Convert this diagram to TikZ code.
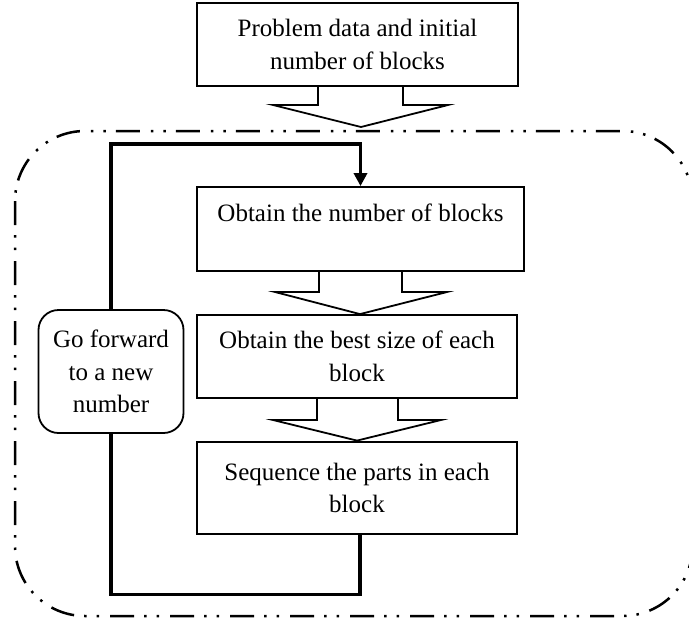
\documentclass[tikz,border=0pt]{standalone}
\usepackage{fontspec}
\setmainfont{Liberation Serif}
\usetikzlibrary{arrows.meta,calc}

\tikzset{
  txt/.style={font=\fontsize{25}{32.5}\selectfont, align=center, inner sep=0pt},
  stepbox/.style={txt, draw, line width=1.8pt, rectangle},
  endbox/.style={stepbox, line width=2.8pt},
  roundbox/.style={txt, draw, line width=1.8pt, rounded corners=20pt},
  blockarrow/.style={draw, line width=1.8pt, line join=miter},
  loopline/.style={draw, line width=3.5pt},
  frameline/.style={draw, line width=2.5pt,
    dash pattern=on 24pt off 10pt on 2.5pt off 10pt on 2.5pt off 11pt,
    rounded corners=70pt}
}

\begin{document}
\begin{tikzpicture}[x=1pt, y=-1pt]
  \useasboundingbox (0,0) rectangle (689,619);

  % enclosing dash-dot-dot frame around the iterative part
  \draw[frameline] (15,131) rectangle (692.5,616);

  % process boxes
  \node[stepbox, minimum width=321pt, minimum height=83pt] (top) at (357.5,44.5)
    {Problem data and initial\\number of blocks};
  \node[stepbox, minimum width=327pt, minimum height=84pt] (b2) at (360.5,229)
    {Obtain the number of blocks\\\mbox{}};
  \node[stepbox, minimum width=320pt, minimum height=83pt] (b3) at (357,356.5)
    {Obtain the best size of each\\block};
  \node[endbox, minimum width=320pt, minimum height=92pt] (b4) at (357,488)
    {Sequence the parts in each\\block};
  \node[roundbox, minimum width=145pt, minimum height=123pt] (go) at (111,371.5)
    {Go forward\\to a new\\number};

  % hollow block arrows between the stages
  \draw[blockarrow] (318,0 |- top.south) -- (318,105) -- (273,105) -- (361,127)
    -- (448,105) -- (403,105) -- (403,0 |- top.south);
  \draw[blockarrow] (319,0 |- b2.south) -- (319,292) -- (275,292) -- (360,0 |- b3.north)
    -- (447,292) -- (402,292) -- (402,0 |- b2.south);
  \draw[blockarrow] (317,0 |- b3.south) -- (317,420) -- (273,420) -- (b4.north)
    -- (441,420) -- (398,420) -- (398,0 |- b3.south);

  % feedback loop through "Go forward to a new number"
  \draw[loopline, -{Triangle[width=13pt, length=13pt]}]
    (go.north) |- ($(b2.north)+(0,-42)$) -- (b2.north);
  \draw[loopline] ($(b4.south)+(3,0)$) -- ++(0,59) -| (go.south);
\end{tikzpicture}
\end{document}
